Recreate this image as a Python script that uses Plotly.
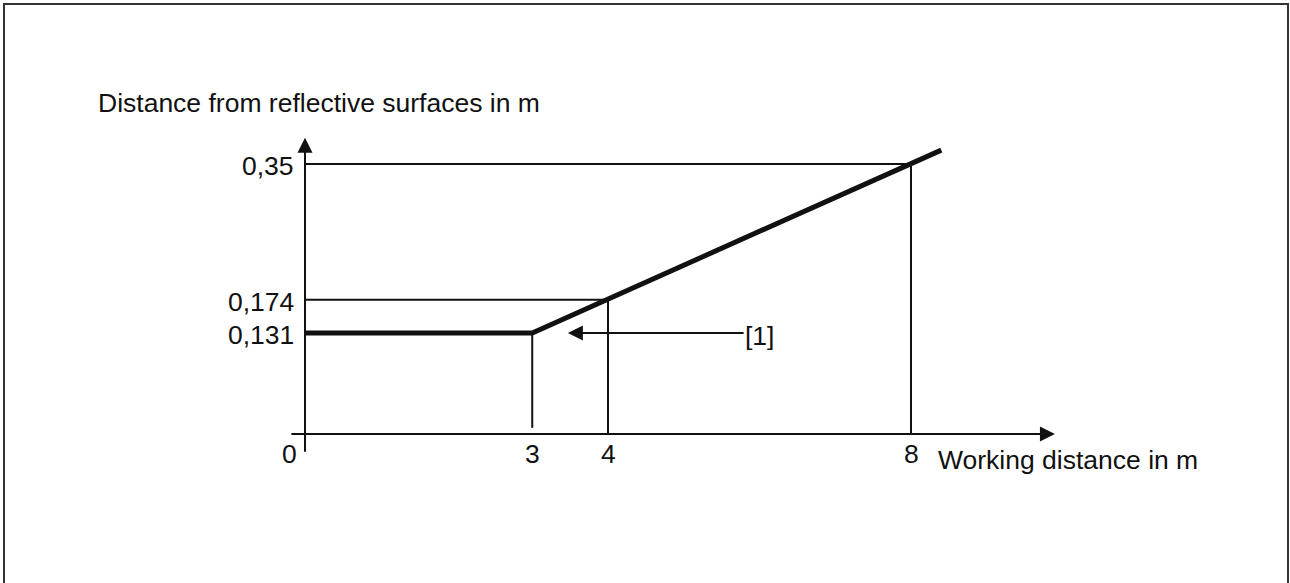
import plotly.graph_objects as go

# ── Data ──────────────────────────────────────────────────────────────────────
CURVE_X = [0, 3, 8.4]            # working distance in m
CURVE_Y = [0.131, 0.131, 0.368]  # distance from reflective surfaces in m

MARK_X = [3, 4, 8]
MARK_Y = [0.131, 0.174, 0.35]

X_TICKS = [0, 3, 4, 8]
X_TICK_TEXT = ["0", "3", "4", "8"]
Y_TICKS = [0.35, 0.174, 0.131]
Y_TICK_TEXT = ["0,35", "0,174", "0,131"]

X_LABEL = "Working distance in m"
Y_LABEL = "Distance from reflective surfaces in m"
NOTE = "[1]"

W, H = 1290, 583
FONT = dict(family="Liberation Sans, Arial, sans-serif", size=26.5, color="#111111")
INK = "#111111"

fig = go.Figure()

# guide lines: horizontal from the y axis, vertical down to the x axis
for i, (mx, my) in enumerate(zip(MARK_X, MARK_Y)):
    if i > 0:
        fig.add_trace(go.Scatter(x=[0, mx], y=[my, my], mode="lines",
                                 line=dict(color=INK, width=2), hoverinfo="skip"))
    y_end = 0.008 if i == 0 else 0
    fig.add_trace(go.Scatter(x=[mx, mx], y=[my, y_end], mode="lines",
                             line=dict(color=INK, width=2), hoverinfo="skip"))

# main curve
fig.add_trace(go.Scatter(x=CURVE_X, y=CURVE_Y, mode="lines",
                         line=dict(color=INK, width=5), hoverinfo="skip"))

# axis arrows
fig.add_annotation(x=9.9, y=0, ax=-0.2, ay=0, xref="x", yref="y", axref="x", ayref="y",
                   text="", showarrow=True, arrowhead=2, arrowsize=1.5,
                   arrowwidth=2, arrowcolor=INK)
fig.add_annotation(x=0, y=0.384, ax=0, ay=-0.025, xref="x", yref="y", axref="x", ayref="y",
                   text="", showarrow=True, arrowhead=2, arrowsize=1.5,
                   arrowwidth=2, arrowcolor=INK)

# tick labels
for v, t in zip(X_TICKS, X_TICK_TEXT):
    fig.add_annotation(x=v, y=0, text=t, showarrow=False, font=FONT,
                       xanchor="center", yanchor="middle",
                       xshift=-16 if v == 0 else 0, yshift=-20)
for v, t in zip(Y_TICKS, Y_TICK_TEXT):
    fig.add_annotation(x=0, y=v, text=t, showarrow=False, font=FONT,
                       xanchor="right", yanchor="middle", xshift=-9, yshift=-2)

# axis titles
fig.add_annotation(x=8, y=0, text=X_LABEL, showarrow=False, font=FONT,
                   xanchor="left", yanchor="middle", xshift=25, yshift=-26)
fig.add_annotation(x=96 / W, y=1 - 103 / H, xref="paper", yref="paper",
                   text=Y_LABEL, showarrow=False, font=FONT,
                   xanchor="left", yanchor="middle")

# callout [1]
fig.add_annotation(x=3.47, y=0.131, ax=5.81, ay=0.131, xref="x", yref="y",
                   axref="x", ayref="y", text="", showarrow=True, arrowhead=2,
                   arrowsize=1.5, arrowwidth=2, arrowcolor=INK)
fig.add_annotation(x=5.81, y=0.131, text=NOTE, showarrow=False, font=FONT,
                   xanchor="left", yanchor="middle", xshift=-2, yshift=-3)

# frame
fig.add_shape(type="rect", xref="paper", yref="paper",
              x0=4 / W, x1=1288 / W, y0=-0.05, y1=1 - 4 / H,
              line=dict(color="#333333", width=2))

fig.update_layout(
    width=W, height=H,
    margin=dict(l=0, r=0, t=0, b=0, pad=0),
    paper_bgcolor="white", plot_bgcolor="white",
    showlegend=False,
    xaxis=dict(visible=False, range=[-4.0264, 13.0033], domain=[0, 1]),
    yaxis=dict(visible=False, range=[-0.19316, 0.56261], domain=[0, 1]),
)

fig.write_html("out.html", config=dict(displayModeBar=False),
               post_script="document.body.style.margin='0';document.body.style.overflow='hidden';")
